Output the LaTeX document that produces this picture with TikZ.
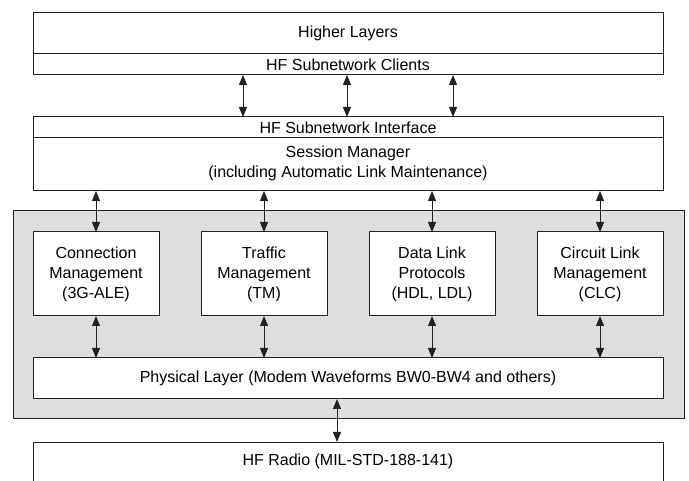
\documentclass[tikz,border=0pt]{standalone}
\usepackage{fontspec}
\setmainfont{Liberation Sans}
\usetikzlibrary{arrows.meta}
\definecolor{linecol}{HTML}{222222}
\definecolor{panel}{HTML}{DEDEDE}
\begin{document}
\begin{tikzpicture}[x=1pt,y=-1pt,
  box/.style={draw=linecol, line width=1pt, fill=white, anchor=north west,
    inner sep=0pt, outer sep=0pt, align=center,
    font=\fontsize{16}{20}\selectfont},
  link/.style={draw=linecol, line width=1pt,
    {Triangle[width=8pt,length=10pt]}-{Triangle[width=8pt,length=10pt]}}]
\useasboundingbox (0,0) rectangle (689,481);
% top stack
\node[box, minimum width=630pt, minimum height=41pt] (higher) at (33,13) {Higher Layers};
\node[box, minimum width=630pt, minimum height=21pt] (clients) at (33,54) {HF Subnetwork Clients};
\node[box, minimum width=630pt, minimum height=21pt] (iface) at (33,117) {HF Subnetwork Interface};
\node[box, minimum width=630pt, minimum height=53pt, text depth=6pt] (session) at (33,138) {Session Manager\\(including Automatic Link Maintenance)};
% grey panel
\node[box, fill=panel, minimum width=671pt, minimum height=208pt] (panel) at (13,211) {};
\node[box, minimum width=126pt, minimum height=84pt] (cm) at (33,232) {Connection\\Management\\(3G-ALE)};
\node[box, minimum width=126pt, minimum height=84pt] (tm) at (201,232) {Traffic\\Management\\(TM)};
\node[box, minimum width=126pt, minimum height=84pt] (dl) at (369,232) {Data Link\\Protocols\\(HDL, LDL)};
\node[box, minimum width=126pt, minimum height=84pt] (clc) at (537,232) {Circuit Link\\Management\\(CLC)};
\node[box, minimum width=630pt, minimum height=41pt] (phys) at (33,358) {Physical Layer (Modem Waveforms BW0-BW4 and others)};
% radio (open at bottom)
\node[box, draw=none, fill=none, minimum width=630pt, minimum height=39pt] (radio) at (33,442) {HF Radio (MIL-STD-188-141)};
\draw[linecol, line width=1pt] (radio.south west) |- (radio.north east) -- (radio.south east);
% connector columns
\coordinate (a1) at (243,0);
\coordinate (a2) at (347,0);
\coordinate (a3) at (453,0);
\coordinate (a4) at (337,0);
\draw[link] (a1 |- clients.south) -- (a1 |- iface.north);
\draw[link] (a2 |- clients.south) -- (a2 |- iface.north);
\draw[link] (a3 |- clients.south) -- (a3 |- iface.north);
\foreach \b in {cm,tm,dl,clc}{
  \draw[link] (session.south -| \b.north) -- (\b.north);
  \draw[link] (\b.south) -- (phys.north -| \b.south);
}
\draw[link] (a4 |- phys.south) -- (a4 |- radio.north);
\end{tikzpicture}
\end{document}
